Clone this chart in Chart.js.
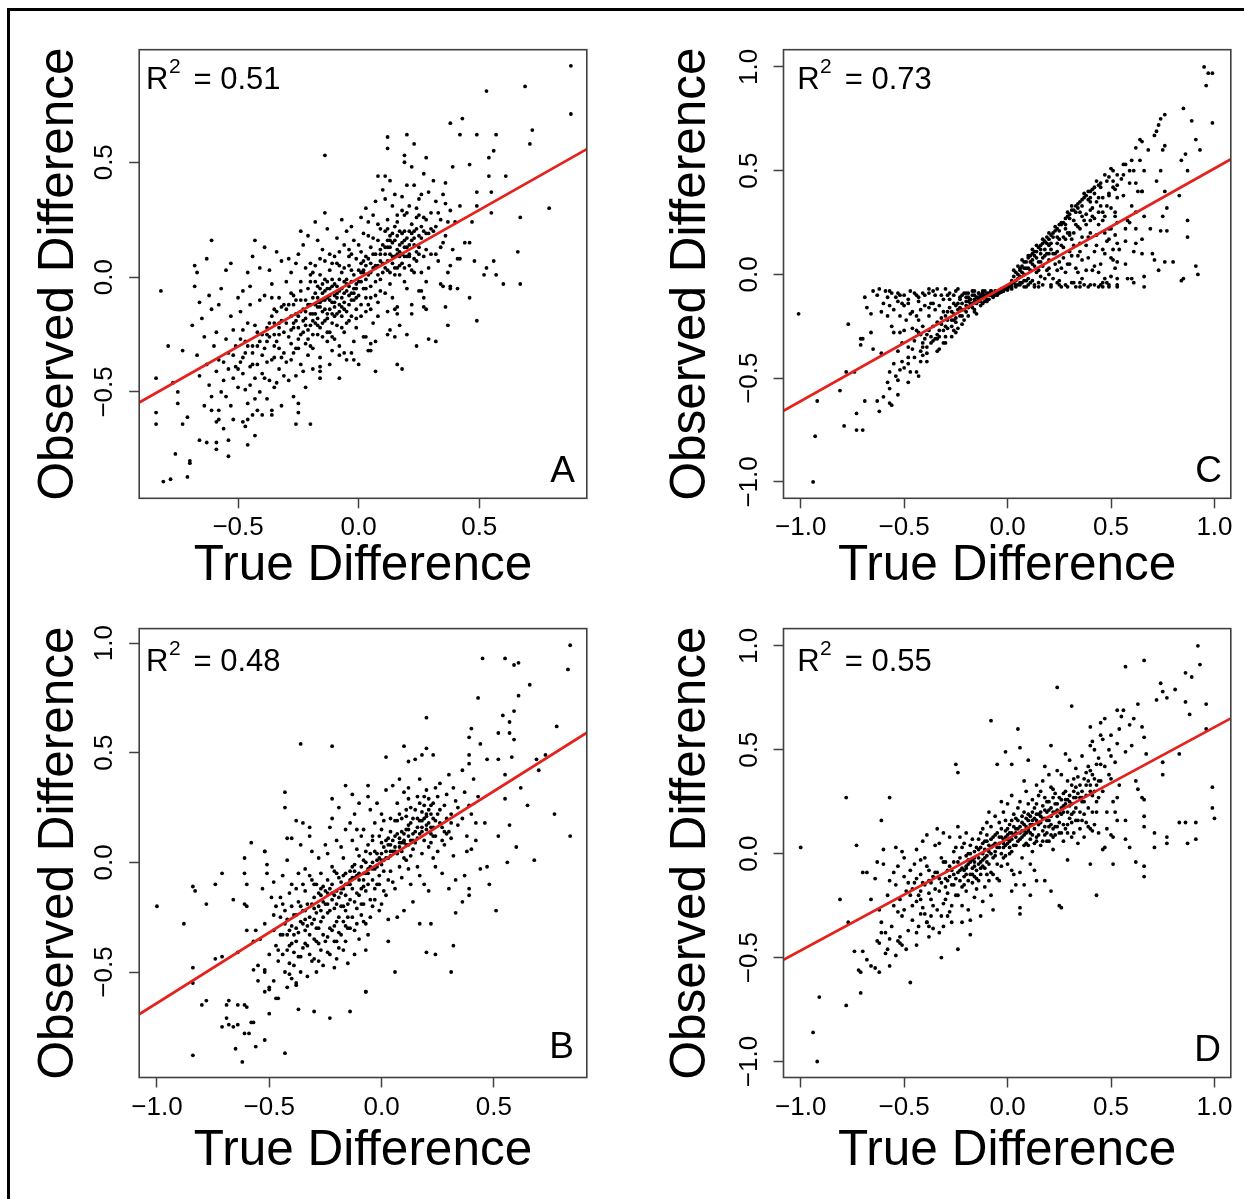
<!DOCTYPE html>
<html>
<head>
<meta charset="utf-8">
<script src="https://cdn.jsdelivr.net/npm/chart.js@4.4.1/dist/chart.umd.min.js"></script>
<style>
html,body{margin:0;padding:0;background:#fff;}
#wrap{position:relative;width:1244px;height:1199px;overflow:hidden;background:#fff;}
#frame{position:absolute;left:7px;top:8px;width:1300px;height:1300px;border-left:3px solid #000;border-top:3px solid #000;}
canvas{position:absolute;}
</style>
</head>
<body>
<div id="wrap">
<div id="frame"></div>
<canvas id="cA" width="622" height="600" style="left:0px;top:0px"></canvas>
<canvas id="cC" width="622" height="600" style="left:622px;top:0px"></canvas>
<canvas id="cB" width="622" height="599" style="left:0px;top:600px"></canvas>
<canvas id="cD" width="622" height="599" style="left:622px;top:600px"></canvas>
</div>
<script>
// ---------------- DATA ----------------
const xTitle = 'True Difference';
const yTitle = 'Observed Difference';
const panelLetters = ['A', 'C', 'B', 'D'];
const r2Values = ['0.51', '0.73', '0.48', '0.55'];

// axis ranges [min, max]
const xRangeA = [-0.91, 0.946],  yRangeA = [-0.963, 0.99];
const xRangeC = [-1.083, 1.079], yRangeC = [-1.079, 1.083];
const xRangeB = [-1.079, 0.914], yRangeB = [-0.981, 1.066];
const xRangeD = [-1.083, 1.079], yRangeD = [-1.077, 1.083];

// tick values
const xTicksA = [-0.5, 0, 0.5],          yTicksA = [-0.5, 0, 0.5];
const xTicksC = [-1, -0.5, 0, 0.5, 1],   yTicksC = [-1, -0.5, 0, 0.5, 1];
const xTicksB = [-1, -0.5, 0, 0.5],      yTicksB = [-0.5, 0, 0.5, 1];
const xTicksD = [-1, -0.5, 0, 0.5, 1],   yTicksD = [-1, -0.5, 0, 0.5, 1];

// red fit line end points [[x, y], [x, y]]
const lineA = [[-0.91, -0.546], [0.946, 0.557]];
const lineC = [[-1.083, -0.657], [1.079, 0.555]];
const lineB = [[-1.079, -0.693], [0.914, 0.591]];
const lineD = [[-1.083, -0.511], [1.079, 0.651]];

// scatter points: pairs (true difference, observed difference)
const ptsA = [
.88,.92,.88,.71,.53,.81,.69,.83,.72,.64,.71,.58,.79,.3,.67,.26,.66,.11,.67,-.03,.6,-.03,.57,.01,.56,.07,.52,.01,.53,.04,
.38,.67,.43,.69,.42,.62,.49,.62,.57,.62,.56,.55,.54,.52,.46,.49,.39,.48,.61,.44,.54,.44,.55,.37,.49,.37,.55,.28,.42,.31,
.49,.31,.47,.24,.4,.24,.44,.15,.46,.15,.48,.07,.46,-.09,.49,-.19,.41,.08,.42,.08,.38,-.04,.41,-.05,-.14,.53,.12,.61,
.12,.56,.2,.62,.23,.58,.19,.53,.19,.5,.28,.52,.08,.44,.11,.44,-.82,-.06,-.61,.16,-.63,.08,-.43,.16,-.67,.02,-.68,-.04,
-.79,-.3,-.73,-.32,-.84,-.44,-.84,-.59,-.84,-.64,-.75,-.55,-.77,-.46,-.71,-.61,-.73,-.64,-.75,-.5,-.76,-.77,-.7,-.8,
-.7,-.81,-.71,-.87,-.81,-.89,-.78,-.88,-.66,-.71,-.63,-.72,-.59,-.72,-.59,-.75,-.54,-.78,-.61,-.58,-.59,-.63,-.58,-.62,
-.43,-.69,-.46,-.73,-.48,-.63,-.46,-.62,-.4,-.6,-.36,-.58,-.26,-.64,-.2,-.64,-.25,-.59,-.08,-.44,-.16,-.41,-.16,-.39,
.07,-.41,.16,-.38,.18,-.4,0,-.38,-.02,-.36,-.08,-.34,-.06,-.33,.05,-.32,.05,-.29,.24,-.3,.29,-.27,.32,-.28,.12,-.25,
.13,-.23,.2,-.25,.03,-.26,.37,-.21,.36,-.13,.27,-.13,.27,-.09,.28,-.14,.22,-.16,.22,-.12,.15,-.14,.16,-.16,.26,-.06,
.35,-.04,.38,-.05,
-.68,.05,-.66,-.11,-.65,-.18,-.64,-.26,-.63,-.38,-.62,-.47,-.61,-.52,-.67,-.34,-.69,-.21,-.62,-.08,-.6,-.3,-.64,-.56,
-.66,-.43,-.61,-.14,
-.59,-.41,-.58,-.36,-.57,-.5,-.56,-.45,-.55,-.27,-.54,-.33,-.53,-.56,-.52,-.62,-.51,-.39,-.58,-.12,-.57,-.05,-.55,.03,
-.53,-.17,-.52,-.23,-.5,-.48,-.56,-.66,-.54,-.71,-.51,-.3,-.59,-.24,-.5,-.09,-.53,.06,-.58,-.58,-.55,-.52,-.52,-.44,
-.49,-.37,-.48,-.42,-.47,-.28,-.46,-.55,-.45,-.47,-.44,-.33,-.43,-.21,-.42,-.38,-.41,-.5,-.49,-.15,-.48,-.06,-.46,.02,
-.45,-.12,-.44,-.6,-.43,-.44,-.42,-.3,-.41,-.1,-.4,-.25,-.47,-.65,-.45,-.39,-.43,-.53,-.41,.04,-.49,-.27,-.46,-.2,
-.44,.09,-.42,-.58,-.4,-.42,-.47,-.49,-.48,-.23,-.45,-.04,
-.39,-.31,-.38,-.22,-.37,-.45,-.36,-.36,-.35,-.14,-.34,-.28,-.33,-.4,-.32,-.19,-.31,-.33,-.39,-.08,-.38,-.53,-.37,.03,
-.36,-.17,-.35,-.48,-.34,.11,-.33,-.09,-.32,-.56,-.31,-.24,-.3,-.37,-.39,-.44,-.37,-.26,-.36,-.03,-.35,-.35,-.34,-.46,
-.33,-.2,-.32,.07,-.31,-.12,-.38,-.37,-.36,-.6,-.34,-.15,-.3,-.02,-.39,.13,-.35,-.25,-.33,-.31,-.31,-.43,
-.29,-.26,-.28,-.17,-.27,-.33,-.26,-.1,-.25,-.22,-.24,-.38,-.23,-.14,-.22,-.29,-.21,-.05,-.29,-.45,-.28,.02,-.27,-.2,
-.26,-.31,-.25,.1,-.24,-.06,-.23,-.41,-.22,-.18,-.21,-.34,-.2,-.12,-.29,-.12,-.28,-.36,-.27,-.52,-.26,.06,-.25,-.27,
-.24,-.15,-.23,.14,-.22,-.48,-.21,-.23,-.2,-.02,-.28,-.29,-.26,-.43,-.24,-.25,-.22,.04,-.2,-.3,-.27,-.08,-.25,-.55,
-.23,-.24,-.21,.18,-.29,.08,-.24,.2,-.22,-.1,-.26,-.19,
-.19,-.16,-.18,-.07,-.17,-.25,-.16,-.11,-.15,-.03,-.14,-.19,-.13,-.09,-.12,-.14,-.11,-.01,-.19,-.31,-.18,.05,-.17,-.13,
-.16,-.22,-.15,.12,-.14,-.06,-.13,-.28,-.12,.03,-.11,-.2,-.1,-.08,-.19,.02,-.18,-.2,-.17,-.04,-.16,-.35,-.15,-.15,
-.14,.07,-.13,-.02,-.12,-.24,-.11,-.11,-.1,.09,-.19,-.4,-.17,.16,-.15,-.26,-.13,.21,-.11,-.32,-.18,-.12,-.16,.01,
-.14,-.1,-.12,-.05,-.1,-.17,-.18,.24,-.16,-.44,-.14,.28,-.12,-.38,-.1,-.27,-.2,-.21,-.17,-.09,-.13,-.16,-.11,.06,
-.09,-.04,-.08,-.12,-.07,.02,-.06,-.07,-.05,-.15,-.04,.05,-.03,-.02,-.02,-.1,-.01,.08,-.09,-.21,-.08,.11,-.07,-.09,
-.06,.14,-.05,-.01,-.04,-.19,-.03,.1,-.02,-.28,-.01,-.05,0,.03,-.09,.17,-.08,-.3,-.07,-.17,-.06,-.24,-.05,.2,
-.04,-.08,-.03,-.33,-.02,.16,-.01,-.14,-.09,.06,-.07,.25,-.05,-.36,-.03,.22,-.01,-.22,-.08,-.01,-.06,.04,-.04,.12,
-.02,.01,-.1,-.13,-.06,-.14,-.03,-.07,
.01,.02,.02,-.05,.03,.09,.04,-.12,.05,.13,.06,.04,.07,-.02,.08,.16,.09,.07,.01,-.17,.02,.19,.03,-.09,.04,.24,
.05,-.04,.06,-.2,.07,.1,.08,-.11,.09,.21,.1,.02,.01,.11,.02,-.26,.03,.3,.04,.01,.05,-.14,.06,.17,.07,.33,.08,.05,
.09,-.06,.1,.14,.02,.07,.04,-.32,.06,.27,.08,-.17,.1,.38,.03,-.01,.05,.06,.07,-.28,.09,.12,.01,.26,
.11,.1,.12,.03,.13,.18,.14,.06,.15,.22,.16,.12,.17,.01,.18,.15,.19,.27,.11,-.07,.12,.25,.13,-.03,.14,.31,.15,.09,
.16,-.13,.17,.2,.18,.06,.19,-.02,.2,.17,.11,.34,.12,-.15,.13,.13,.14,-.09,.15,.36,.16,.24,.17,-.21,.18,.29,.19,.09,
.2,.4,.12,.16,.14,.19,.16,.04,.18,.35,.2,-.05,.13,.42,.15,-.26,.17,.11,.19,.2,.11,.2,
.21,.14,.22,.23,.23,.08,.24,.3,.25,.18,.26,.02,.27,.26,.28,.12,.29,.37,.21,.31,.22,.03,.23,.4,.24,.11,.25,-.06,
.26,.22,.27,.45,.28,-.02,.29,.19,.3,.28,.21,.05,.23,.2,.25,.34,.27,.09,.29,.04,.22,.48,.24,.21,.26,.36,.28,.25,
.3,.1,.25,.27,
.31,.2,.32,.33,.33,.07,.34,.25,.35,.15,.36,.41,.37,.02,.38,.29,.39,.12,.31,.42,.32,.1,.33,.28,.34,-.03,.35,.36,
.36,.18,.37,.24,.38,.05,.32,.22,.34,.13,.36,.32
];
const denseA = [
-.3,-.2,-.28,-.23,-.26,-.16,-.24,-.1,-.22,-.21,-.2,-.16,-.19,-.09,-.18,-.02,-.17,-.18,-.16,-.05,-.15,-.1,-.14,-.14,
-.13,-.05,-.12,-.1,-.11,-.16,-.1,-.03,-.09,-.09,-.08,-.06,-.07,-.13,-.06,-.02,-.05,-.06,-.04,-.12,-.03,.03,-.02,-.05,
-.01,-.09,0,-.02,.01,.06,.02,.02,.03,-.05,.04,.08,.05,.02,.06,.1,.07,.05,.08,.01,.09,.1,.1,.06,.11,.13,.12,.07,
.13,.1,.14,.15,.15,.04,.16,.18,.17,.14,.18,.1,.19,.13,.2,.09,.21,.2,.22,.16,.23,.14,.24,.07,.25,.13,.26,.17,.27,.2,
.28,.19,.3,.21,-.33,-.25,-.35,-.3,-.37,-.2,-.38,-.28,-.4,-.34,-.42,-.24,-.44,-.38,-.46,-.3,-.48,-.35,-.5,-.4,
-.52,-.34,-.54,-.4,-.56,-.37,-.32,-.35,-.3,-.14,-.27,-.12,-.25,-.31,-.23,-.19,-.21,-.27,-.19,-.25,-.17,-.21,-.15,-.2,
-.13,-.24,-.11,-.26,-.09,-.16,-.07,-.22,-.05,-.2,-.03,-.17,-.01,-.18,.01,-.12,.03,-.15,.05,-.09,.07,-.08,.09,-.01,
.11,.04,.13,.02,.15,.01,.17,.05,.19,.04,.21,.09,.23,.02,-.2,.06,-.16,.08,-.12,.1,-.08,.05,-.04,.09,0,.14,.04,.18,
.08,.23,.12,.21,.16,.27,.2,.28,.24,.26,-.36,-.09,-.32,-.13,-.28,-.07,-.24,-.02,-.2,.01,
-.21,-.12,-.19,-.19,-.17,-.11,-.15,-.07,-.14,-.01,-.12,-.08,-.1,-.11,-.09,-.07,-.08,-.15,-.07,-.05,-.06,-.11,-.05,-.03,
-.04,-.04,-.03,-.1,-.02,-.07,-.01,-.03,0,-.08,.01,-.02,.02,.03,.03,.05,-.18,-.16,-.16,-.13,-.13,-.18,-.11,-.04,
-.22,-.15,-.25,-.17,-.27,-.22,.12,.13,.14,.09,.15,.16,.17,.09,.18,.19,.2,.13,.21,.1,.22,.19,.19,.16,.16,.1,.13,.16,
.23,.17,.25,.1,-.33,-.22,-.35,-.2,-.38,-.25,-.41,-.28,-.44,-.3,-.47,-.33
];

const ptsC = [
-1.01,-.19,-.94,-1,-.93,-.78,-.92,-.61,-.81,-.56,-.78,-.47,-.74,-.47,-.79,-.73,-.73,-.75,-.7,-.75,-.73,-.67,-.69,-.61,
-.62,-.66,-.63,-.61,-.6,-.59,-.57,-.62,-.56,-.63,-.53,-.58,-.77,-.24,-.69,-.11,-.68,-.16,-.66,-.19,-.71,-.31,-.7,-.31,
-.71,-.34,-.66,-.28,-.65,-.36,-.61,-.38,-.61,-.18,-.62,-.07,-.57,-.08,-.58,-.11,-.57,-.15,-.56,-.25,-.55,-.43,-.57,-.47,
-.58,-.52,-.57,-.55,-.53,-.51,-.52,-.46,-.51,-.42,-.53,-.37,-.51,-.33,-.5,-.27,-.52,-.28,-.55,-.28,-.54,-.11,-.51,-.14,
-.52,-.1,-.48,-.14,-.46,-.18,-.43,-.22,-.44,-.27,-.45,-.32,-.48,-.35,-.48,-.4,-.48,-.43,-.48,-.52,-.47,-.47,-.44,-.47,
-.43,-.49,-.42,-.42,-.41,-.39,-.39,-.42,-.41,-.35,-.4,-.31,-.42,-.29,-.41,-.25,-.43,-.11,-.41,-.09,-.38,-.07,-.37,-.14,
-.38,-.16,-.35,-.17,-.34,-.07,-.34,-.37,-.34,-.31,-.33,-.3,-.32,-.24,-.31,-.33,-.3,-.3,-.3,-.07,-.29,-.1,-.28,-.12,
-.27,-.18,-.26,-.27,-.25,-.23,-.25,-.15,-.24,-.07,-.23,-.11,-.22,-.2,-.22,-.14,-.2,-.11,-.2,-.18,-.19,-.09,-.18,-.15,
-.18,-.12,-.16,-.18,-.16,-.1,-.15,-.14,-.14,-.09,-.14,-.13,-.13,-.11,-.12,-.14,-.11,-.08,-.1,-.12,-.1,-.1,-.08,-.08,
-.07,-.1,-.06,-.08,-.05,-.09,
-.45,-.09,-.43,-.13,-.4,-.1,-.38,-.2,-.36,-.25,-.35,-.1,-.33,-.15,-.32,-.21,-.31,-.12,-.3,-.25,-.29,-.18,-.28,-.09,
-.27,-.22,-.26,-.14,-.25,-.28,-.24,-.17,-.23,-.12,-.22,-.24,-.21,-.09,-.2,-.15,-.19,-.2,-.18,-.12,-.17,-.1,-.16,-.17,
-.15,-.13,-.14,-.09,-.13,-.15,-.12,-.11,-.11,-.13,-.1,-.09,-.09,-.12,-.08,-.1,-.07,-.09,-.06,-.1,-.05,-.085,-.04,-.08,
-.03,-.085,-.02,-.075,-.5,-.15,-.52,-.2,-.48,-.12,-.46,-.26,-.44,-.2,-.42,-.17,-.39,-.29,-.37,-.33,-.34,-.29,-.3,-.33,
-.27,-.3,-.24,-.26,-.21,-.22,-.19,-.16,-.26,-.1,-.22,-.1,-.17,-.14,-.13,-.1,-.6,-.14,-.58,-.2,-.55,-.17,-.53,-.09,
-.47,-.19,-.41,-.33,-.38,-.09,-.33,-.36,-.29,-.26,-.25,-.08,-.16,-.08,-.12,-.08,-.1,-.13,-.08,-.08,-.2,-.09,-.15,-.19,
-.36,-.14,-.43,-.28,-.49,-.22,
.95,1,.99,.97,.97,.97,.96,.91,.99,.73,.85,.8,.89,.74,.91,.65,.93,.6,.86,.58,.84,.55,.87,.5,.83,.38,.87,.26,.87,.18,
.91,.04,.92,0,.84,-.03,.85,-.02,.8,.06,.76,.06,.73,.02,.71,.07,.65,.1,.66,-.06,.66,-.01,.74,.21,.77,.21,.77,.32,
.75,.28,.76,.4,.69,.22,.65,.17,.65,.4,.74,.5,.75,.6,.76,.62,.71,.67,.72,.69,.73,.72,.74,.75,.76,.77,.65,.64,.64,.65,
.62,.61,.6,.55,.57,.53,.56,.53,.61,.5,.66,.5,.62,.44,.59,.44,.65,.4,.62,.3,.59,.25,.57,.22,.57,.16,.62,.15,.61,.11,
.58,-.02,.6,-.02,.53,-.02,.53,-.06,.49,-.06,.46,-.06,.47,-.02,.5,-.01,.52,.03,.53,.06,.51,.07,.53,.15,.52,.19,.51,.12,
.49,.17,.53,.25,.52,.28,.5,.32,.53,.37,.49,.39,.52,.41,.51,.45,.53,.48,.51,.5,.5,.51,.56,.48,.53,.43,
.01,-.06,.02,-.05,.03,-.04,.04,-.03,.05,-.02,.02,-.07,.04,-.06,.06,-.05,.07,.01,.08,-.06,.09,.03,.1,-.05,.11,.06,
.12,-.03,.13,.09,.14,.01,.15,-.06,.16,.12,.17,.04,.18,-.02,.19,.15,.2,.07,.21,-.05,.22,.18,.23,.1,.24,.02,.25,.21,
.26,-.06,.27,.13,.28,.24,.29,.05,.3,.27,.31,.17,.32,-.04,.33,.3,.34,.09,.35,.22,.36,.33,.37,-.05,.38,.14,.39,.36,
.4,.26,.41,.02,.42,.39,.43,.19,.44,-.06,.45,.42,.46,.3,.47,.1,.48,.45,.49,.22,
.03,.02,.05,.04,.06,-.01,.07,.07,.08,.03,.09,-.03,.1,.09,.11,.02,.12,.12,.13,-.05,.14,.14,.15,.06,.16,-.01,.17,.17,
.18,.09,.19,.02,.2,.2,.21,.12,.22,-.02,.23,.23,.24,.15,.25,.06,.26,.25,.27,.18,.28,.01,.29,.28,.3,.11,.31,.31,
.32,.2,.33,.03,.34,.34,.35,.15,.36,.07,.37,.37,.38,.29,.39,.18,.4,.4,.41,.32,.42,.11,.43,.35,.44,.24,.45,.05,
.46,.37,.47,.28,.48,.16,.49,.38,
.04,.01,.06,.03,.08,.06,.1,.08,.12,.1,.14,.11,.16,.14,.18,.16,.2,.17,.22,.2,.24,.22,.26,.24,.28,.27,.3,.29,.32,.31,
.34,.32,.36,.36,.38,.38,.4,.37,.42,.42,.44,.43,.13,.04,.17,.08,.21,.15,.25,.17,.29,.2,.33,.24,.37,.26,.41,.28,.45,.33,
.19,.1,.23,.05,.27,.08,.31,.09,.35,.11,.39,.08,.43,.14,.47,.2,.15,.02,.2,0,.24,-.04,.28,-.05,.33,-.06,.36,-.02,
.4,-.05,.44,.01,.48,-.04,.11,-.04,.07,-.04,
.52,.3,.55,.46,.56,.38,.54,.12,.57,.05,.6,.33,.62,.22,.63,.4,.64,.55,.66,.28,.68,.6,.7,.1,.72,.45,.53,-.05,.61,-.04,
.58,.26,.51,.42,.5,.08,.59,.5
];
const denseC = [
-.05,-.1,-.07,-.11,-.09,-.1,-.11,-.1,-.13,-.13,-.15,-.11,-.17,-.16,-.19,-.13,-.21,-.17,-.23,-.2,-.25,-.21,-.27,-.25,
-.29,-.22,-.31,-.27,-.33,-.27,-.35,-.31,-.37,-.3,-.39,-.35,-.12,-.09,-.16,-.12,-.2,-.13,-.24,-.14,-.28,-.16,-.32,-.1,
-.36,-.08,-.4,-.15,-.44,-.1,-.47,-.08,-.5,-.1,-.53,-.13,-.56,-.09,-.59,-.08,-.63,-.1,-.65,-.08,-.31,-.18,-.26,-.19,
-.23,-.16,-.19,-.11,-.17,-.08,-.14,-.11,-.11,-.11,-.09,-.09,-.06,-.09,-.04,-.09,-.03,-.07,-.02,-.08,-.01,-.07,0,-.07,
-.42,-.37,-.45,-.4,-.39,-.38,-.36,-.32,-.46,-.36,-.5,-.45,-.54,-.49,
0,-.06,.01,-.05,.02,-.03,.03,-.01,.05,0,.06,.02,.07,.04,.09,.06,.11,.09,.13,.11,.15,.13,.17,.15,.19,.18,.21,.19,
.23,.21,.25,.24,.27,.25,.29,.3,.31,.33,.33,.33,.35,.35,.37,.39,.39,.4,.41,.41,.43,.45,.45,.44,.47,.48,.49,.47,
.05,-.05,.09,-.06,.13,-.06,.17,-.05,.21,-.06,.25,-.05,.29,-.06,.31,-.04,.35,-.06,.39,-.06,.42,-.05,.46,-.04,.49,-.05,
.14,.08,.18,.12,.22,.1,.26,.14,.3,.19,.34,.23,.38,.24,.42,.27,.46,.26,.24,.11,.28,.17,.32,.14,.36,.18,.4,.2,.44,.3,
.48,.33,.16,.06,.2,.03,.26,.03,.3,.05,.34,.01,.38,.02,.42,.04,.46,.12,.5,.22,.1,.03,.12,.05,.08,0,
-.08,-.09,-.06,-.09,-.04,-.085,-.02,-.08,0,-.075,.02,-.06,.04,-.05,.06,-.04,.08,-.03,.1,-.02,-.12,-.1,-.14,-.12,
-.16,-.13,-.18,-.14,-.22,-.17,-.26,-.22,.12,.07,.16,.1,.2,.14,.24,.18,.28,.22,.32,.26,.36,.28,.4,.31,.44,.37,
.15,-.04,.25,-.03,.35,-.04,.45,-.05,.2,.1,.3,.2,.35,.3,.4,.35,-.3,-.2,-.34,-.23,-.38,-.27
];

const ptsB = [
.84,.99,.83,.88,.45,.93,.55,.93,.59,.9,.61,.91,.66,.81,.43,.75,.61,.76,.59,.69,.54,.67,.57,.64,.52,.59,.57,.59,.59,.56,
.78,.62,.4,.61,.39,.57,.44,.54,.2,.66,-.36,.54,-.22,.53,.1,.53,.02,.48,.12,.46,.15,.47,.18,.49,.2,.52,.23,.49,.39,.49,
.47,.47,.52,.47,.58,.48,.69,.47,.73,.49,.7,.42,.55,.4,.62,.34,.65,.26,.77,.22,.84,.12,.68,.01,.6,.07,.56,0,.51,-.22,
.48,-.1,.47,-.02,.57,.17,.52,.12,.55,.29,.46,.18,.39,-.12,.39,-.15,.36,-.18,.33,-.23,.32,-.38,.31,-.5,.24,-.42,.2,-.41,
.22,-.28,.17,-.28,.06,-.5,-.07,-.59,-.14,-.68,-.23,-.71,-.3,-.68,-.37,-.67,-.43,-.87,-.62,-.91,-.84,-.88,-.65,-.85,
-.56,-.84,-.52,-.81,-.64,-.74,-.61,-.78,-.59,-.78,-.69,-.71,-.71,-.75,-.68,-.74,-.66,-.75,-.58,-.73,-.57,-.73,-.64,-.65,
-.61,-.65,-.6,-.66,-.68,-.63,-.69,-.65,-.78,-.63,-.8,-.65,-.84,-.48,-.84,-.55,-.74,-.44,-.71,-.43,-.64,-.41,-.88,-.28,
-1,-.2,-.78,-.19,-.84,-.11,-.83,-.13,-.74,-.1,-.71,-.05,-.66,-.17,-.61,-.19,-.6,-.2,-.61,.02,-.61,-.05,-.6,-.1,
-.58,.09,-.52,.05,-.51,-.01,-.6,-.31,-.56,-.31,-.57,-.36,-.57,-.49,-.52,-.49,-.52,-.5,-.55,-.54,-.52,-.59,-.5,-.57,
-.48,-.54,-.47,-.62,-.5,-.69,-.41,-.51,-.4,-.53,-.38,-.56,-.43,.32,-.43,.25,-.38,.19,-.35,.18,-.32,.16,-.42,.11,
-.4,.11,-.22,.29,-.16,.35,-.06,.35,-.07,-.59,
-.54,-.35,-.52,-.28,-.5,-.42,-.48,-.31,-.47,-.2,-.46,-.45,-.53,-.12,-.51,-.05,-.49,-.16,-.47,-.38,-.45,-.25,-.55,-.47,
-.5,-.58,-.46,-.62,-.48,-.09,-.52,.05,
-.44,-.33,-.43,-.22,-.42,-.4,-.41,-.14,-.4,-.29,-.39,-.47,-.38,-.36,-.37,-.18,-.36,-.27,-.44,-.06,-.43,-.5,-.42,.01,
-.41,-.38,-.4,-.1,-.39,-.24,-.38,-.55,-.37,-.43,-.36,.08,-.45,-.16,-.43,-.28,-.41,-.46,-.39,-.33,-.37,-.05,-.35,-.39,
-.44,-.42,-.4,-.2,-.36,-.5,-.38,-.12,-.42,-.57,-.35,-.22,
-.34,-.31,-.33,-.19,-.32,-.42,-.31,-.08,-.3,-.26,-.29,-.36,-.28,-.14,-.27,-.22,-.26,-.47,-.34,-.03,-.33,-.38,-.32,-.25,
-.31,.05,-.3,-.16,-.29,-.5,-.28,-.3,-.27,-.05,-.26,-.33,-.25,-.19,-.34,-.13,-.32,.12,-.3,-.44,-.28,.02,-.26,-.11,
-.33,-.52,-.31,-.28,-.29,-.1,-.27,-.4,-.25,.08,-.35,-.28,-.3,-.35,-.27,-.27,-.32,-.06,-.28,-.45,-.25,-.36,
-.24,-.23,-.23,-.12,-.22,-.31,-.21,-.04,-.2,-.19,-.19,-.39,-.18,-.09,-.17,-.27,-.16,-.15,-.24,.04,-.23,-.42,-.22,-.17,
-.21,-.29,-.2,.1,-.19,-.07,-.18,-.33,-.17,.02,-.16,-.22,-.15,-.46,-.24,-.34,-.22,-.02,-.2,-.27,-.18,-.2,-.16,.15,
-.23,.16,-.21,-.15,-.19,-.25,-.17,-.12,-.15,-.3,-.24,-.14,-.2,-.36,-.16,-.05,-.22,.2,-.18,.07,-.15,-.1,-.19,.25,
-.21,-.48,-.17,-.4,
-.14,-.1,-.13,-.02,-.12,-.18,-.11,.06,-.1,-.08,-.09,-.24,-.08,.01,-.07,-.13,-.06,-.05,-.14,-.3,-.13,.1,-.12,-.07,
-.11,-.21,-.1,.03,-.09,-.12,-.08,.15,-.07,-.28,-.06,.08,-.05,-.17,-.14,.18,-.12,.22,-.1,-.35,-.08,-.19,-.06,-.33,
-.13,-.25,-.11,-.14,-.09,.12,-.07,.05,-.05,-.02,-.14,-.04,-.1,.27,-.06,.3,-.12,-.42,-.08,-.05,-.11,.15,-.07,-.4,
-.13,.31,
-.04,-.03,-.03,.05,-.02,-.1,-.01,.12,0,-.01,.01,.07,.02,-.15,.03,.02,.04,.14,-.04,-.2,-.03,.18,-.02,.04,-.01,-.06,
0,.22,.01,-.13,.02,.1,.03,-.26,.04,-.04,-.04,.1,-.02,.27,0,-.19,.02,.33,.04,.08,-.03,-.12,-.01,.02,.01,.19,.03,.11,
.05,-.09,-.05,.24,0,.09,.03,-.36,.05,.35,
.06,.05,.07,.13,.08,-.02,.09,.2,.1,.09,.11,.01,.12,.17,.13,.25,.14,.06,.06,-.12,.07,.27,.08,.11,.09,-.07,.1,.32,
.11,.15,.12,-.03,.13,.1,.14,-.18,.06,.19,.08,.38,.1,-.22,.12,.29,.14,.2,.07,-.25,.09,.05,.11,.24,.13,-.1,.15,.14,
.1,.02,.12,.08,
.16,.11,.17,.19,.18,.04,.19,.26,.2,.15,.21,.07,.22,.22,.23,.12,.24,-.02,.16,.3,.17,-.06,.18,.23,.19,.1,.2,.33,
.21,-.13,.22,.16,.23,.27,.24,.19,.25,.05,.17,.38,.19,-.1,.21,.29,.23,.02,.18,.14,.2,.21,.22,.09,.24,.34,.16,-.02,
.26,.18,.27,.1,.28,.26,.29,.31,.3,.14,.31,.22,.32,.03,.33,.28,.34,.17,.26,.36,.27,-.05,.28,.08,.29,.2,.3,.4,
.31,.11,.32,.34,.33,-.08,.34,.25,.28,.14,.3,-.12,.26,.24,
.36,.2,.37,.32,.38,.12,.39,.26,.4,.06,.41,.38,.42,.18,.43,.3,.44,-.03,.36,.42,.38,.05,.4,.22,.42,.1,.37,-.06,.39,.45
];
const denseB = [
-.45,-.33,-.42,-.26,-.4,-.37,-.38,-.3,-.36,-.2,-.34,-.22,-.33,-.29,-.31,-.19,-.3,-.1,-.29,-.23,-.28,-.2,-.27,-.15,
-.26,-.25,-.25,-.13,-.24,-.08,-.23,-.3,-.22,-.1,-.21,-.21,-.2,-.05,-.19,-.16,-.18,-.14,-.17,-.06,-.16,-.29,-.15,-.19,
-.14,-.17,-.13,-.12,-.12,-.01,-.11,-.06,-.1,-.15,-.09,-.02,-.08,-.11,-.07,0,-.06,-.1,-.05,.04,-.04,-.08,-.03,-.03,
-.02,.01,-.01,-.1,0,.04,.01,.01,.02,.05,.03,.08,.04,.03,.05,.1,.06,.12,.07,.04,.08,.07,.09,.14,.1,.13,.11,.08,
.12,.12,.13,.18,.14,.13,.15,.09,.16,.16,.17,.13,.18,.19,.19,.2,.2,.17,.21,.18,.22,.26,.23,.16,.24,.12,.25,.22,
.27,.16,.29,.13,.31,.18,-.37,-.32,-.35,-.1,-.32,-.33,-.29,-.3,-.27,-.12,-.23,-.22,-.21,-.36,-.19,-.32,-.17,-.2,
-.15,-.25,-.13,-.07,-.11,-.28,-.09,-.19,-.07,-.05,-.05,-.25,-.03,-.17,-.01,-.22,.01,-.04,.03,-.08,.05,.05,.07,.19,
.09,.09,.11,.21,.13,.03,.15,.24,.17,.27,.19,.3,.21,.24,.23,.2,.25,.3,-.48,-.24,-.44,-.19,-.41,-.31,-.39,-.41,
-.36,-.43,-.34,-.37,-.31,-.45,-.28,-.37,-.24,-.41,-.2,-.44,-.16,-.36,-.12,-.31,-.08,-.27,-.04,.12,0,.15,.04,.2,
.08,.22,.12,.34,
-.26,-.18,-.22,-.14,-.18,-.12,-.14,-.08,-.1,-.05,-.06,-.03,-.02,-.02,.02,.02,.06,.07,.1,.1,.14,.1,.18,.16,.22,.13,
-.3,-.21,-.24,-.19,-.2,-.13,-.16,-.1,-.12,-.04,-.08,-.08,-.04,0,0,.01,.04,.05,.08,.09,.12,.15,.16,.2,.2,.22,
-.34,-.26,-.38,-.24,-.42,-.33,-.46,-.4
];

const ptsD = [
.92,1,.93,.91,.86,.87,.89,.85,.66,.93,.57,.9,.81,.79,.74,.82,.75,.78,.77,.75,.72,.74,.86,.73,.96,.72,.88,.67,.96,.6,
.83,.48,.99,.32,.99,.22,1,.17,.83,.15,.86,.15,.91,.15,.91,.07,.87,.05,.77,.05,.77,.08,.71,.03,.62,-.04,.66,-.06,
.66,-.11,.51,-.05,.4,-.05,.43,-.2,.24,.8,.31,.71,-.08,.64,.05,.6,.21,.52,-.01,.49,.06,.51,.1,.45,.02,.43,-.05,.43,
-.25,.43,-.24,.39,-.78,.27,-.57,.27,-.61,.16,-.73,.04,-1,.03,-.63,-.04,-.7,-.09,-.68,-.09,-.81,-.22,-.66,-.22,
-.77,-.33,-.74,-.47,-.7,-.47,-.68,-.51,-.72,-.56,-.71,-.57,-.66,-.54,-.62,-.57,-.71,-.67,-.78,-.73,-.91,-.69,
-.94,-.86,-.92,-1,-.47,-.62,-.57,-.54,-.54,-.49,-.62,-.43,-.58,-.46,-.61,-.38,-.59,-.38,-.53,-.42,-.52,-.43,-.51,-.44,
-.44,-.38,-.44,-.44,-.38,-.35,-.39,-.33,-.42,-.29,-.32,-.5,-.24,-.46,-.18,-.39,-.13,-.3,-.22,-.33,.06,-.29,.06,-.26,
.25,-.25,.26,-.26,.21,-.18,.11,-.2,.02,-.18,.08,-.15,.14,-.13,.18,-.13,.29,-.03,.46,.02,.5,.09,.57,.07,.59,.03,
.53,.16,.57,.16,.66,.18,.66,.13,.71,.1,.75,.44,.75,.38,.67,.48,.62,.35,.63,.31,.65,.27,.66,.26,.65,.61,.66,.56,
.59,.62,.61,.65,.63,.72,.53,.69,.55,.66,.56,.69,.47,.65,.5,.57,.53,.53,.6,.52,.57,.49,.45,.63,.4,.61,.41,.54,.45,.57,
-.64,-.12,-.62,-.27,-.6,-.05,-.58,-.2,-.56,-.35,-.63,-.42,-.59,-.48,-.57,-.13,-.61,-.33,-.55,-.25,-.6,.02,-.64,-.55,
-.57,-.41,
-.54,-.15,-.53,-.06,-.52,-.22,-.51,-.3,-.5,-.11,-.49,-.18,-.48,-.37,-.47,-.08,-.46,-.25,-.54,.03,-.52,-.4,-.5,-.02,
-.48,-.14,-.46,-.32,-.53,-.28,-.51,.01,-.49,-.46,-.47,-.2,-.45,-.05,-.55,-.09,-.5,-.27,-.46,-.17,
-.44,-.12,-.43,-.2,-.42,-.03,-.41,-.26,-.4,-.15,-.39,-.33,-.38,-.08,-.37,-.22,-.36,-.11,-.44,.02,-.43,-.35,-.42,-.18,
-.41,.06,-.4,-.29,-.39,-.06,-.38,-.4,-.37,-.14,-.36,-.25,-.35,.04,-.44,-.23,-.42,-.1,-.4,-.02,-.38,-.19,-.36,-.36,
-.41,-.14,-.37,-.3,-.35,-.17,-.39,.09,
-.34,-.09,-.33,-.18,-.32,-.02,-.31,-.24,-.3,-.12,-.29,-.3,-.28,-.06,-.27,-.15,-.26,.01,-.34,-.27,-.33,.05,-.32,-.14,
-.31,-.35,-.3,-.04,-.29,-.19,-.28,.08,-.27,-.25,-.26,-.1,-.25,-.2,-.33,-.38,-.31,.1,-.29,-.08,-.27,-.33,-.25,.03,
-.34,.12,-.3,-.22,-.26,-.15,-.28,-.28,-.32,-.3,
-.24,-.04,-.23,-.13,-.22,.03,-.21,-.08,-.2,-.18,-.19,0,-.18,-.1,-.17,-.03,-.16,-.21,-.24,-.2,-.23,.08,-.22,-.16,
-.21,.05,-.2,-.06,-.19,-.27,-.18,.04,-.17,-.14,-.16,.01,-.15,-.08,-.24,.13,-.22,-.25,-.2,.1,-.18,-.32,-.16,-.11,
-.23,-.02,-.21,-.11,-.19,-.05,-.17,.07,-.15,-.17,-.2,-.01,-.18,-.04,-.16,-.06,
-.14,-.02,-.13,.03,-.12,-.06,-.11,.06,-.1,-.01,-.09,.04,-.08,-.09,-.07,.08,-.06,.01,-.14,-.13,-.13,.1,-.12,0,
-.11,-.16,-.1,.09,-.09,-.05,-.08,.13,-.07,-.02,-.06,.05,-.05,-.12,-.14,.07,-.12,-.23,-.1,.15,-.08,-.2,-.06,.18,
-.13,-.07,-.11,.02,-.09,.2,-.07,-.27,-.05,.1,-.12,.12,-.08,.03,-.1,-.1,
-.04,.03,-.03,.08,-.02,-.02,-.01,.11,0,.05,.01,.14,.02,.01,.03,.09,.04,.17,-.04,.15,-.03,-.06,-.02,.2,-.01,-.01,
0,.24,.01,.06,.02,-.08,.03,.19,.04,.04,.05,.12,-.04,-.13,-.02,.07,0,-.05,.02,.28,.04,-.15,-.03,.25,-.01,.16,
.01,0,.03,-.1,.05,.22,0,.12,.02,.1,.04,.08,
.06,.07,.07,.15,.08,.2,.09,.1,.1,.04,.11,.18,.12,.26,.13,.12,.14,.06,.06,.25,.07,-.02,.08,.11,.09,.3,.1,.16,
.11,-.05,.12,.09,.13,.22,.14,.33,.15,.14,.06,-.09,.08,.35,.1,.24,.12,.01,.14,.19,.07,.08,.09,.17,.11,.1,.13,-.08,
.15,.28,.1,.12,.12,.16,.14,.08,.08,.04,
.16,.2,.17,.11,.18,.27,.19,.16,.2,.06,.21,.22,.22,.31,.23,.13,.24,.24,.16,.04,.17,.35,.18,.09,.19,.25,.2,.38,
.21,.14,.22,.02,.23,.29,.24,.18,.25,.1,.16,.3,.18,.17,.2,.21,.22,.12,.24,.4,.17,.23,.19,.06,.21,.32,.23,.2,.25,.27,
.2,.13,.18,.42,.22,.08,
.26,.19,.27,.29,.28,.12,.29,.35,.3,.23,.31,.08,.32,.3,.33,.41,.34,.16,.26,.38,.27,.06,.28,.24,.29,.14,.3,.45,
.31,.33,.32,.1,.33,.22,.34,.37,.35,.27,.26,.1,.28,.48,.3,.17,.32,.2,.34,.05,.27,.2,.29,.26,.31,.15,.33,.32,.35,.12,
.36,.25,.37,.36,.38,.15,.39,.42,.4,.3,.41,.2,.42,.5,.43,.33,.44,.1,.36,.47,.37,.08,.38,.28,.39,.22,.4,.52,
.41,.38,.42,.14,.43,.43,.44,.27,.45,.35,.36,.16,.38,.39,.4,.12,.42,.3,.44,.46,
.46,.3,.47,.42,.48,.2,.49,.5,.5,.36,.51,.08,.52,.44,.53,.27,.54,.6,.46,.55,.48,.12,.5,.47,.52,.2,.54,.33,.47,.03,
.49,.38,.51,.25
];
const denseD = [
-.3,-.16,-.28,-.11,-.26,-.04,-.24,-.09,-.22,-.07,-.2,-.1,-.19,-.03,-.18,0,-.17,-.07,-.16,-.02,-.15,.03,-.14,.02,
-.13,-.04,-.12,.05,-.11,-.02,-.1,.06,-.09,.01,-.08,.07,-.07,.04,-.06,.09,-.05,.03,-.04,.08,-.03,.12,-.02,.05,
-.01,.08,0,.09,.01,.03,.02,.16,.03,.13,.04,.12,.05,.06,.06,.13,.07,.18,.08,.14,.09,.13,.1,.19,.11,.14,.12,.2,
.13,.17,.14,.24,.15,.19,.16,.15,.17,.17,.18,.21,.19,.2,.2,.25,.21,.18,.22,.27,.23,.24,.24,.13,.25,.2,.26,.26,
.27,.23,.28,.3,.29,.2,.3,.28,.31,.24,.32,.36,.33,.27,.34,.29,.35,.33,.36,.3,.37,.25,.38,.33,.39,.35,.4,.4,
.41,.28,.42,.36,.43,.25,.44,.35,.45,.43,-.45,-.14,-.42,-.22,-.38,-.13,-.35,-.09,-.33,-.12,-.31,-.04,-.29,-.13,
-.27,-.08,-.25,-.12,-.23,-.08,-.21,-.15,-.19,-.13,-.17,-.1,-.15,-.12,-.13,-.1,-.11,-.07,-.09,-.13,-.07,-.1,
-.05,-.05,-.03,0,-.01,.04,.01,.1,.03,.04,.05,.16,.07,.11,.09,.05,.11,.07,.13,.05,.15,.09,.17,.06,.19,.1,.21,.09,
.23,.09,.25,.15,.27,.14,.29,.1,.31,.19,.33,.16,.35,.2,.37,.19,.39,.13,.41,.11,.43,.2,
-.14,-.05,-.1,-.04,-.06,-.01,-.02,.03,.02,.07,.06,.1,.1,.11,.14,.16,.18,.13,.22,.2,.26,.22,.3,.25,-.2,-.07,
-.16,-.04,-.12,-.03,-.08,0,-.04,.05,0,.07,.04,.1,.08,.09,.12,.14,.16,.18,.2,.16,.24,.21,.28,.26,.32,.27,.36,.27,.4,.33
];

// ---------------- RENDERING ----------------
const FONT = '"Liberation Sans", Arial, Helvetica, sans-serif';
const INK = '#000';
const AXIS_GREY = '#404040';

function toXY(...arrs) {
  const out = [];
  arrs.forEach(arr => { for (let i = 0; i + 1 < arr.length; i += 2) out.push({x: arr[i], y: arr[i + 1]}); });
  return out;
}
function fmtTick(v) {
  const s = Math.abs(v).toFixed(1);
  return (v < -1e-9 ? '\u2212' : '') + s;
}

const annotPlugin = {
  id: 'annot',
  afterDraw(chart, args, o) {
    const ctx = chart.ctx, a = chart.chartArea;
    ctx.save();
    ctx.strokeStyle = AXIS_GREY;
    ctx.lineWidth = 1.6;
    ctx.strokeRect(a.left, a.top, a.right - a.left, a.bottom - a.top);
    ctx.fillStyle = INK;
    ctx.textBaseline = 'alphabetic';
    ctx.textAlign = 'left';
    const rx = a.left + o.r2dx, ry = a.top + o.r2dy;
    ctx.font = '31px ' + FONT;
    ctx.fillText('R', rx, ry);
    const rw = ctx.measureText('R').width;
    ctx.font = '21px ' + FONT;
    ctx.fillText('2', rx + rw + 0.5, ry - 16);
    ctx.font = '31px ' + FONT;
    ctx.fillText('= ' + o.r2, rx + 47.5, ry);
    ctx.font = '37px ' + FONT;
    ctx.textAlign = 'right';
    ctx.fillText(o.letter, a.right + o.ldx, a.bottom + o.ldy);
    ctx.restore();
  }
};

function axisCfg(range, ticks, isX, sizeFix, tickPad) {
  return {
    type: 'linear',
    position: isX ? 'bottom' : 'left',
    min: range[0], max: range[1],
    bounds: 'data',
    afterBuildTicks: s => { s.ticks = ticks.map(v => ({value: v})); },
    afterFit: s => { if (isX) s.height = sizeFix; else s.width = sizeFix; },
    grid: {drawOnChartArea: false, drawTicks: true, tickLength: 10, tickWidth: 1.5, tickColor: AXIS_GREY},
    border: {display: false},
    ticks: {
      autoSkip: false,
      minRotation: isX ? 0 : 90, maxRotation: isX ? 0 : 90,
      crossAlign: isX ? 'near' : 'center',
      padding: tickPad,
      color: INK,
      font: {family: FONT, size: 26, lineHeight: 1.2},
      callback: v => fmtTick(v)
    },
    title: {
      display: true, text: isX ? xTitle : yTitle, color: INK, padding: 0,
      font: {family: FONT, size: 49.5, lineHeight: 1.2}
    }
  };
}

const panels = [
  {id: 'cA', pts: [ptsA, denseA], line: lineA, xr: xRangeA, yr: yRangeA, xt: xTicksA, yt: yTicksA, i: 0,
   pad: {left: 29.7, top: 49.7, right: 35.2, bottom: 3.8}, yW: 109.5, xH: 97.9, r2dx: 6.8, r2dy: 39.3, ldx: -11.8, ldy: -16.6},
  {id: 'cC', pts: [ptsC, denseC], line: lineC, xr: xRangeC, yr: yRangeC, xt: xTicksC, yt: yTicksC, i: 1,
   pad: {left: 40, top: 49.7, right: 13.2, bottom: 3.8}, yW: 121.5, xH: 97.9, r2dx: 13.7, r2dy: 39.3, ldx: -8.8, ldy: -16.6},
  {id: 'cB', pts: [ptsB, denseB], line: lineB, xr: xRangeB, yr: yRangeB, xt: xTicksB, yt: yTicksB, i: 2,
   pad: {left: 29.7, top: 28.6, right: 35.2, bottom: 17.8}, yW: 109.5, xH: 103.7, r2dx: 6.8, r2dy: 42, ldx: -12.8, ldy: -19.5},
  {id: 'cD', pts: [ptsD, denseD], line: lineD, xr: xRangeD, yr: yRangeD, xt: xTicksD, yt: yTicksD, i: 3,
   pad: {left: 40, top: 28.6, right: 13.2, bottom: 17.8}, yW: 121.5, xH: 103.7, r2dx: 13.7, r2dy: 42, ldx: -9.8, ldy: -16.8}
];

panels.forEach(p => {
  new Chart(document.getElementById(p.id), {
    type: 'scatter',
    data: {
      datasets: [
        {type: 'scatter', data: toXY(...p.pts), pointRadius: 1.9, pointHoverRadius: 1.9,
         pointBackgroundColor: '#000', pointBorderWidth: 0, borderWidth: 0, order: 2},
        {type: 'line', data: p.line.map(q => ({x: q[0], y: q[1]})), borderColor: '#e5211c', borderWidth: 2.7,
         pointRadius: 0, fill: false, tension: 0, order: 1}
      ]
    },
    options: {
      responsive: false, maintainAspectRatio: false, animation: false, devicePixelRatio: 1,
      events: [],
      layout: {padding: p.pad},
      plugins: {
        legend: {display: false}, tooltip: {enabled: false},
        annot: {r2: r2Values[p.i], letter: panelLetters[p.i], r2dx: p.r2dx, r2dy: p.r2dy, ldx: p.ldx, ldy: p.ldy}
      },
      scales: {
        x: axisCfg(p.xr, p.xt, true, p.xH, 4.4),
        y: axisCfg(p.yr, p.yt, false, p.yW, -1.7)
      }
    },
    plugins: [annotPlugin]
  });
});
</script>
</body>
</html>
